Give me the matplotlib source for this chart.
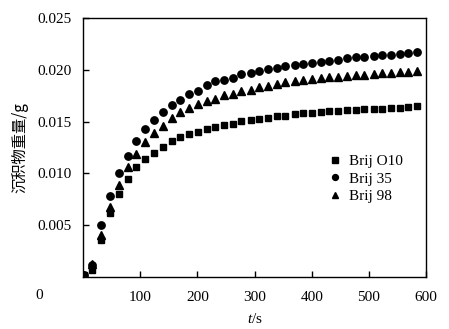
import matplotlib.pyplot as plt

plt.rcParams['font.family'] = ['Liberation Serif', 'Noto Sans CJK SC']
plt.rcParams['mathtext.fontset'] = 'custom'
plt.rcParams['mathtext.it'] = 'Liberation Serif:italic'
plt.rcParams['mathtext.rm'] = 'Liberation Serif'

# sampling times [s]
t = [1, 16, 32, 47, 62, 78, 93, 109, 124, 139,
     155, 170, 185, 201, 216, 231, 247, 262, 277, 293,
     308, 324, 339, 354, 370, 385, 400, 416, 431, 446,
     462, 477, 492, 508, 523, 539, 554, 569, 584]

# sediment weight [g]
brij_o10 = [0.0002, 0.0007, 0.0036, 0.0062, 0.0080, 0.0095, 0.0106, 0.0114, 0.0120, 0.0126,
            0.0131, 0.0135, 0.0138, 0.0140, 0.0143, 0.0145, 0.0147, 0.0148, 0.0151, 0.0152,
            0.0153, 0.0154, 0.0155, 0.0155, 0.0157, 0.0158, 0.0158, 0.0159, 0.0160, 0.0160,
            0.0161, 0.0161, 0.0162, 0.0162, 0.0162, 0.0163, 0.0163, 0.0164, 0.0165]
brij_35 = [0.0002, 0.0012, 0.0050, 0.0078, 0.0100, 0.0117, 0.0131, 0.0143, 0.0152, 0.0159,
           0.0166, 0.0171, 0.0177, 0.0180, 0.0185, 0.0189, 0.0190, 0.0192, 0.0196, 0.0197,
           0.0199, 0.0201, 0.0202, 0.0204, 0.0205, 0.0206, 0.0207, 0.0208, 0.0209, 0.0210,
           0.0211, 0.0212, 0.0212, 0.0213, 0.0214, 0.0214, 0.0215, 0.0216, 0.0217]
brij_98 = [0.0002, 0.0013, 0.0041, 0.0068, 0.0089, 0.0106, 0.0119, 0.0130, 0.0139, 0.0146,
           0.0154, 0.0159, 0.0163, 0.0167, 0.0170, 0.0172, 0.0176, 0.0177, 0.0180, 0.0181,
           0.0183, 0.0184, 0.0186, 0.0188, 0.0189, 0.0190, 0.0191, 0.0192, 0.0193, 0.0193,
           0.0194, 0.0195, 0.0195, 0.0196, 0.0197, 0.0197, 0.0198, 0.0198, 0.0199]

xticks = [100, 200, 300, 400, 500, 600]
yticks = [0.005, 0.010, 0.015, 0.020, 0.025]

fig = plt.figure(figsize=(4.49, 3.29), dpi=100)
ax = fig.add_axes([0.185, 0.158, 0.764, 0.787])

ax.plot(t, brij_o10, 's', color='black', ms=5.0, label='Brij O10')
ax.plot(t, brij_35, 'o', color='black', ms=5.3, label='Brij 35')
ax.plot(t, brij_98, '^', color='black', ms=5.8, label='Brij 98')

ax.set_xlim(0, 600)
ax.set_ylim(0, 0.025)
ax.set_xticks(xticks)
ax.set_yticks(yticks)
ax.set_yticklabels([f'{v:.3f}' for v in yticks])
ax.tick_params(direction='in', length=4, width=1, labelsize=11, pad=8)
ax.tick_params(axis='x', pad=10)
for sp in ax.spines.values():
    sp.set_linewidth(1)

# origin label sits apart, under the y tick labels
ax.text(-0.128, -0.07, '0', transform=ax.transAxes, fontsize=11,
        ha='center', va='center')

ax.set_xlabel('$t$/s', fontsize=11, labelpad=6)
ax.set_ylabel('沉积物重量/g', fontsize=11,
              family=['Noto Sans CJK SC', 'DejaVu Sans'])
ax.yaxis.set_label_coords(-0.158, 0.5)

ax.legend(loc='upper left', bbox_to_anchor=(0.685, 0.515), frameon=False,
          fontsize=11, handlelength=0.8, handletextpad=0.5, labelspacing=0.25,
          markerscale=0.8, borderpad=0.2)

fig.savefig('out.png', dpi=100)
